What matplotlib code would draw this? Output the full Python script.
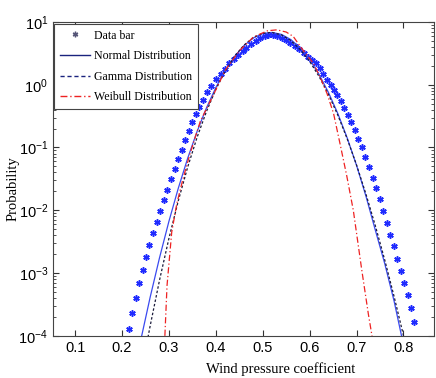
import matplotlib
matplotlib.use("Agg")
import matplotlib.pyplot as plt
import numpy as np
from matplotlib.lines import Line2D
from matplotlib.ticker import LogLocator, FixedLocator

plt.rcParams['mathtext.fontset'] = 'custom'
plt.rcParams['mathtext.rm'] = 'Liberation Sans'
plt.rcParams['mathtext.it'] = 'Liberation Sans'

# data stars (x, log10 probability)
data_x = [0.2145, 0.2215, 0.230, 0.237, 0.244, 0.252, 0.258, 0.267, 0.274, 0.282,
          0.290, 0.297, 0.304, 0.312, 0.320, 0.327, 0.335, 0.342, 0.349, 0.357,
          0.364, 0.372, 0.381, 0.390, 0.400, 0.410, 0.420, 0.429, 0.438, 0.447,
          0.457, 0.465, 0.475, 0.485, 0.494, 0.504, 0.512, 0.521, 0.531, 0.541,
          0.550, 0.559, 0.569, 0.578, 0.588, 0.597, 0.605, 0.613, 0.621, 0.629,
          0.637, 0.645, 0.652, 0.659, 0.667, 0.674, 0.681, 0.689, 0.696, 0.704,
          0.711, 0.719, 0.727, 0.735, 0.742, 0.749, 0.757, 0.764, 0.772, 0.780,
          0.787, 0.795, 0.802, 0.810, 0.817, 0.823]
data_logp = [-3.896, -3.646, -3.397, -3.158, -2.955, -2.753, -2.557, -2.360, -2.185, -2.014,
             -1.844, -1.684, -1.509, -1.349, -1.190, -1.041, -0.887, -0.738, -0.599, -0.472,
             -0.356, -0.244, -0.121, -0.021, 0.086, 0.171, 0.255, 0.341, 0.410, 0.474,
             0.537, 0.590, 0.649, 0.697, 0.740, 0.772, 0.790, 0.785, 0.772, 0.750,
             0.713, 0.670, 0.617, 0.569, 0.501, 0.437, 0.400, 0.340, 0.270, 0.170,
             0.080, 0.000, -0.080, -0.160, -0.255, -0.367, -0.483, -0.595, -0.722, -0.866,
             -0.998, -1.148, -1.308, -1.488, -1.643, -1.818, -2.019, -2.201, -2.397, -2.573,
             -2.780, -2.971, -3.163, -3.359, -3.557, -3.785]

# fitted curves (x, log10 probability)
norm_x = [0.24, 0.26, 0.28, 0.30, 0.32, 0.34, 0.36, 0.38, 0.40, 0.42, 0.44, 0.46, 0.48, 0.50,
          0.52, 0.54, 0.56, 0.58, 0.60, 0.62, 0.64, 0.66, 0.68, 0.70, 0.72, 0.74, 0.76, 0.78, 0.80]
norm_logp = [-4.070, -3.388, -2.758, -2.178, -1.650, -1.172, -0.746, -0.370, -0.045, 0.229,
             0.452, 0.624, 0.745, 0.815, 0.834, 0.802, 0.719, 0.585, 0.401, 0.165, -0.122,
             -0.459, -0.848, -1.287, -1.777, -2.319, -2.850, -3.450, -4.150]

gamma_x = [0.25, 0.26, 0.28, 0.30, 0.32, 0.34, 0.36, 0.38, 0.40, 0.42, 0.44, 0.46, 0.48, 0.50,
           0.52, 0.54, 0.56, 0.58, 0.60, 0.62, 0.64, 0.66, 0.68, 0.70, 0.72, 0.74, 0.76, 0.78,
           0.80, 0.81]
gamma_logp = [-4.236, -3.846, -3.115, -2.450, -1.850, -1.313, -0.839, -0.427, -0.074, 0.219,
              0.454, 0.631, 0.753, 0.820, 0.833, 0.794, 0.703, 0.562, 0.372, 0.133, -0.153,
              -0.484, -0.861, -1.281, -1.744, -2.248, -2.793, -3.377, -4.000, -4.325]

weib_x = [0.288, 0.296, 0.306, 0.317, 0.330, 0.345, 0.367, 0.391, 0.42, 0.45, 0.48, 0.51,
          0.53, 0.55, 0.565, 0.58, 0.608, 0.622, 0.637, 0.651, 0.665, 0.679, 0.693, 0.711,
          0.725, 0.735]
weib_logp = [-4.6, -3.2, -2.35, -1.89, -1.50, -1.10, -0.58, -0.22, 0.23, 0.54, 0.76, 0.86,
             0.875, 0.84, 0.77, 0.61, 0.34, 0.13, -0.14, -0.46, -0.95, -1.45, -2.0, -2.95,
             -3.65, -4.1]

fig = plt.figure(figsize=(4.36, 3.78), dpi=100)
ax = fig.add_axes([0.1216, 0.1119, 0.8738, 0.8299])

ax.plot(data_x, 10 ** np.array(data_logp), linestyle='none', marker=(6, 2, 0),
        markersize=4.6, mew=1.1, color='#1f2bff')
ax.plot(norm_x, 10 ** np.array(norm_logp), '-', color='#3a4af0', lw=0.9)
ax.plot(gamma_x, 10 ** np.array(gamma_logp), linestyle=(0, (2, 1.6)), color='#1a1a3a', lw=0.9)
ax.plot(weib_x, 10 ** np.array(weib_logp), linestyle=(0, (5, 2, 1, 2)), color='#ee2222', lw=0.9)

ax.set_yscale('log')
ax.set_xlim(0.053, 0.865)
ax.set_ylim(1e-4, 1e1)
ax.xaxis.set_major_locator(FixedLocator([0.1, 0.2, 0.3, 0.4, 0.5, 0.6, 0.7, 0.8]))
ax.set_xticklabels(['0.1', '0.2', '0.3', '0.4', '0.5', '0.6', '0.7', '0.8'])
ax.yaxis.set_major_locator(LogLocator(base=10, numticks=10))
ax.yaxis.set_minor_locator(LogLocator(base=10, subs=np.arange(2, 10), numticks=20))
ax.tick_params(which='both', direction='in', top=True, right=True, labelsize=10.5,
               colors='#333333', labelcolor='black')
ax.tick_params(which='major', length=4)
ax.tick_params(which='minor', length=2)
for lab in ax.get_xticklabels() + ax.get_yticklabels():
    lab.set_family('Liberation Sans')
for s in ax.spines.values():
    s.set_color('#444444')
    s.set_linewidth(0.8)

ax.set_xlabel('Wind pressure coefficient', family='Liberation Serif', fontsize=10.5)
ax.xaxis.set_label_coords(0.598, -0.085)
ax.set_ylabel('Probability', family='Liberation Serif', fontsize=10.5)
ax.yaxis.set_label_coords(-0.088, 0.47)

handles = [
    Line2D([], [], linestyle='none', marker=(6, 2, 0), markersize=4, mew=1.0, color='#555577'),
    Line2D([], [], color='#1a237e', lw=1.0),
    Line2D([], [], color='#1a237e', lw=1.0, linestyle=(0, (3, 2))),
    Line2D([], [], color='#ee2222', lw=1.0, linestyle=(0, (5, 2, 1, 2))),
]
labels = ['Data bar', 'Normal Distribution', 'Gamma Distribution', 'Weibull Distribution']
leg = ax.legend(handles, labels, loc='upper left', bbox_to_anchor=(0.002, 0.995),
                prop={'family': 'Liberation Serif', 'size': 8.6}, fancybox=False,
                framealpha=1, edgecolor='#444444', handlelength=2.5, labelspacing=0.72,
                borderpad=0.5, handletextpad=0.4, borderaxespad=0)
leg.get_frame().set_linewidth(0.8)

fig.savefig('out.png', dpi=100)
